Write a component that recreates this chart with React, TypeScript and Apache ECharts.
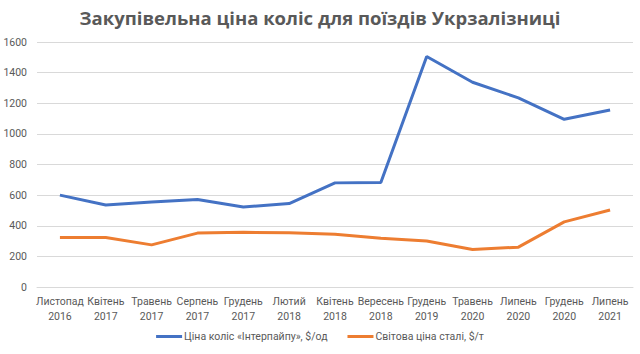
import React, { useEffect, useRef } from "react";
import * as echarts from "echarts";

const categories = [
  "Листопад\n2016", "Квітень\n2017", "Травень\n2017", "Серпень\n2017", "Грудень\n2017",
  "Лютий\n2018", "Квітень\n2018", "Вересень\n2018", "Грудень\n2019", "Травень\n2020",
  "Липень\n2020", "Грудень\n2020", "Липень\n2021",
];
const wheelPrice = [600, 535, 555, 572, 523, 545, 680, 683, 1505, 1337, 1235, 1095, 1156];
const steelPrice = [323, 323, 275, 352, 357, 355, 345, 318, 300, 245, 260, 425, 503];
const seriesNames = ["Ціна коліс «Інтерпайпу», $/од", "Світова ціна сталі, $/т"];
const title = "Закупівельна ціна коліс для поїздів Укрзалізниці";

export default function App() {
  const ref = useRef<HTMLDivElement>(null);
  useEffect(() => {
    if (!ref.current) return;
    const chart = echarts.init(ref.current, null, { renderer: "svg" });
    const titleFont = "'Open Sans', sans-serif";
    const font = "Roboto, 'Open Sans', sans-serif";
    chart.setOption({
      animation: false,
      backgroundColor: "#ffffff",
      title: {
        text: title,
        left: "center",
        top: 3,
        textStyle: { fontFamily: titleFont, fontSize: 18.5, fontWeight: "bold", color: "#595959" },
      },
      grid: { left: 37, right: 7, top: 42, bottom: 67 },
      legend: {
        bottom: 7,
        left: "center",
        itemWidth: 26,
        itemHeight: 3,
        itemGap: 20,
        icon: "rect",
        textStyle: { fontFamily: font, fontSize: 10.5, color: "#595959", padding: [0, 0, 0, -3] },
        data: seriesNames,
      },
      xAxis: {
        type: "category",
        data: categories,
        boundaryGap: true,
        axisLine: { lineStyle: { color: "#d9d9d9" } },
        axisTick: { show: false },
        axisLabel: { fontFamily: font, fontSize: 10.5, color: "#595959", lineHeight: 15, interval: 0, margin: 7 },
      },
      yAxis: {
        type: "value",
        min: 0,
        max: 1600,
        interval: 200,
        axisLine: { show: false },
        axisTick: { show: false },
        splitLine: { lineStyle: { color: "#d9d9d9" } },
        axisLabel: {
          fontFamily: font,
          fontSize: 10.5,
          color: "#595959",
          margin: 10,
          formatter: (v: number) => String(v),
        },
      },
      series: [
        {
          name: seriesNames[0],
          type: "line",
          data: wheelPrice,
          showSymbol: false,
          symbol: "none",
          lineStyle: { width: 3, color: "#4472C4" },
          itemStyle: { color: "#4472C4" },
        },
        {
          name: seriesNames[1],
          type: "line",
          data: steelPrice,
          showSymbol: false,
          symbol: "none",
          lineStyle: { width: 3, color: "#ED7D31" },
          itemStyle: { color: "#ED7D31" },
        },
      ],
    });
    return () => chart.dispose();
  }, []);
  return <div ref={ref} style={{ width: 640, height: 354, position: "absolute", left: 0, top: 0 }} />;
}
